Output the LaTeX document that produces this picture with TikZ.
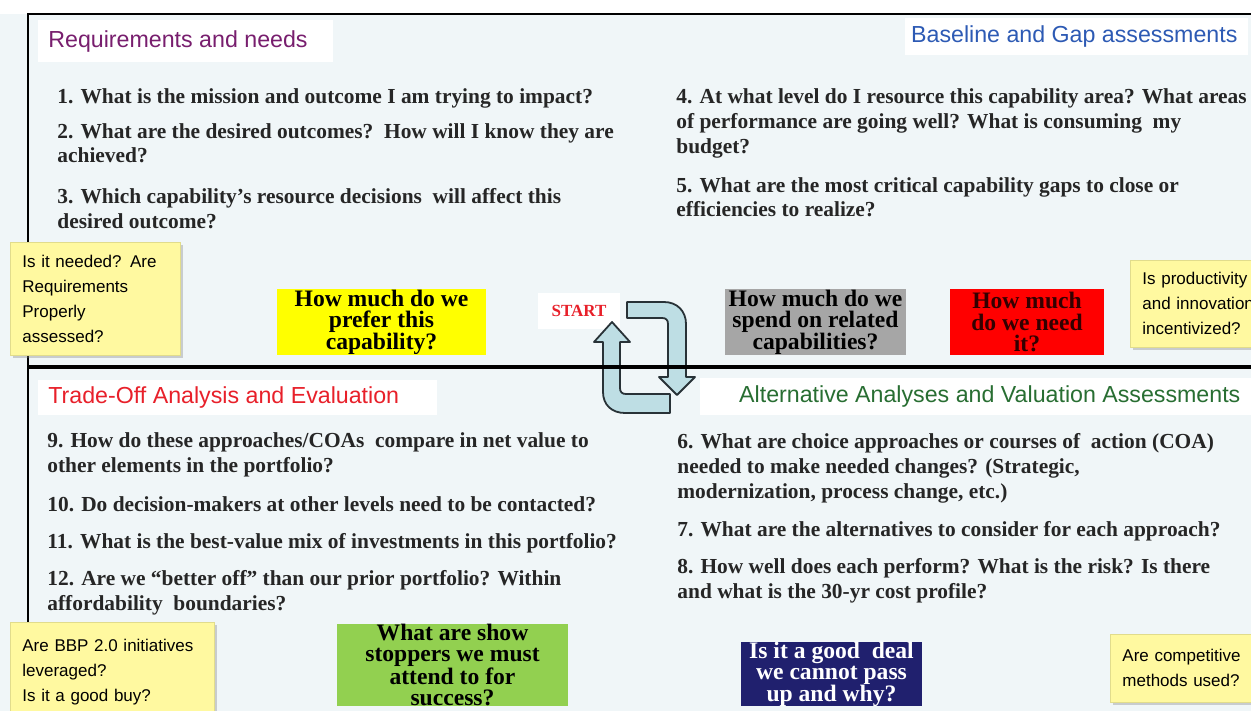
\documentclass[tikz,border=0pt]{standalone}
\usepackage{fontspec}
\setmainfont{Liberation Serif}
\setsansfont{Liberation Sans}
\usepackage{tikz}
\usetikzlibrary{positioning,shadows}
\usepackage{xcolor}
\definecolor{panelbg}{RGB}{240,246,248}
\definecolor{headpurple}{RGB}{120,30,110}
\definecolor{headblue}{RGB}{45,90,180}
\definecolor{headred}{RGB}{232,32,42}
\definecolor{headgreen}{RGB}{40,110,50}
\definecolor{notefill}{RGB}{255,249,160}
\definecolor{noteedge}{RGB}{225,220,140}
\definecolor{askyellow}{RGB}{255,255,0}
\definecolor{askgrey}{RGB}{166,166,166}
\definecolor{askred}{RGB}{255,0,0}
\definecolor{askgreen}{RGB}{146,208,80}
\definecolor{asknavy}{RGB}{32,32,110}
\definecolor{turnfill}{RGB}{190,222,228}
\definecolor{turnedge}{RGB}{40,50,55}
\newcommand{\qfont}{\fontsize{10.7}{12.5}\selectfont\bfseries}
\newcommand{\afont}{\fontsize{11.8}{10.8}\selectfont\bfseries}
\newcommand{\hfont}{\sffamily\fontsize{11.6}{13}\selectfont}
\newcommand{\nfont}{\sffamily\fontsize{8.5}{12.5}\selectfont}
\tikzset{
  quest/.style={anchor=base west,align=left,inner sep=0pt,font=\qfont,text=black!85},
  headbox/.style={fill=white,anchor=north west,inner sep=0pt},
  headtext/.style={inner sep=0pt,font=\hfont},
  askbox/.style={inner sep=0pt,align=center,font=\afont},
  note/.style={fill=notefill,draw=noteedge,line width=.4pt,anchor=north west,
               align=left,inner xsep=6pt,inner ysep=3pt,font=\nfont,
               drop shadow={shadow xshift=1.2pt,shadow yshift=-1.2pt,opacity=.35}},
  turn/.style={fill=turnfill,draw=turnedge,line width=.9pt,line join=round},
  divider/.style={draw=black,line width=2pt},
}

\begin{document}
\begin{tikzpicture}[x=0.5pt,y=-0.5pt]
  \useasboundingbox (0,0) rectangle (1251,711);
  \clip (0,0) rectangle (1251,711);
  \fill[white] (0,0) rectangle (1251,711);
  \fill[panelbg] (0,14) rectangle (1251,711);
  \draw[line width=1pt] (1251,14) -- (28,14) -- (28,711);
  % section headings
  \node[headbox,minimum width=147.5pt,minimum height=21pt] (hreqbox) at (38,20) {};
  \node[headtext,text=headpurple,right=5pt of hreqbox.west] (hreq) {Requirements and needs};
  \node[headbox,minimum width=171.5pt,minimum height=18.5pt] (hgapbox) at (905,18) {};
  \node[headtext,text=headblue,left=5.5pt of hgapbox.east] (hgap) {Baseline and Gap assessments};
  \node[headbox,minimum width=199.5pt,minimum height=17.5pt] (htradebox) at (38,380) {};
  \node[headtext,text=headred,right=5pt of htradebox.west] (htrade) {Trade-Off Analysis and Evaluation};
  \node[headbox,minimum width=275.5pt,minimum height=18.5pt] (haltbox) at (700,378) {};
  \node[headtext,text=headgreen,left=5.5pt of haltbox.east] (halt)
    {Alternative Analyses and Valuation Assessments};
  % questions (placed at the baseline of their last line)
  \node[quest] (q1) at (57,104) {1. What is the mission and outcome I am trying to impact?};
  \node[quest] (q2) at (57,163) {2. What are the desired outcomes?\ \ How will I know they are\\achieved?};
  \node[quest] (q3) at (57,228) {3. Which capability's resource decisions\ \ will affect this\\desired outcome?};
  \node[quest] (q4) at (676,154) {4. At what level do I resource this capability area? What areas\\of performance are going well? What is consuming\ \ my\\budget?};
  \node[quest] (q5) at (676,217) {5. What are the most critical capability gaps to close or\\efficiencies to realize?};
  \node[quest] (q6) at (677,498) {6. What are choice approaches or courses of\ \ action (COA)\\needed to make needed changes? (Strategic,\\modernization, process change, etc.)};
  \node[quest] (q7) at (677,536) {7. What are the alternatives to consider for each approach?};
  \node[quest] (q8) at (677,598) {8. How well does each perform? What is the risk? Is there\\and what is the 30-yr cost profile?};
  \node[quest] (q9) at (47,472) {9. How do these approaches/COAs\ \ compare in net value to\\other elements in the portfolio?};
  \node[quest] (q10) at (47,511) {10. Do decision-makers at other levels need to be contacted?};
  \node[quest] (q11) at (47,548) {11. What is the best-value mix of investments in this portfolio?};
  \node[quest] (q12) at (47,610) {12. Are we ``better off'' than our prior portfolio? Within\\affordability\ \ boundaries?};
  % prompts
  \node[askbox,fill=askyellow,minimum width=104.5pt,minimum height=33pt] (pref)
    at (381.5,322) {How much do we\\prefer this\\capability?};
  \node[askbox,fill=askgrey,minimum width=90.5pt,minimum height=33pt] (spend)
    at (815.5,322) {How much do we\\spend on related\\capabilities?};
  \node[askbox,fill=askred,text=black!80!red,minimum width=77pt,minimum height=33pt] (need)
    at (1027,322) {How much\\do we need\\it?};
  \node[askbox,fill=askgreen,minimum width=115.5pt,minimum height=40pt,
        font=\fontsize{11.8}{10.4}\selectfont\bfseries] (stopper)
    at (452.5,665) {What are show\\stoppers we must\\attend to for\\success?};
  \node[askbox,fill=asknavy,text=white,minimum width=90.5pt,minimum height=32pt] (deal)
    at (831.5,674) {Is it a good\ \ deal\\we cannot pass\\up and why?};
  \node[fill=white,inner sep=0pt,minimum width=41pt,minimum height=18pt,text=headred,
        font=\fontsize{8.5}{9}\selectfont\bfseries] (start) at (579,311) {START};
  % cycle arrows
  \draw[turn] (627,302) -- (664,302) .. controls (677,302) and (686,311) .. (686,324)
    -- (686,377) -- (695,377) -- (677,395) -- (659,377) -- (668,377) -- (668,324)
    .. controls (668,320) and (666,318) .. (662,318) -- (627,318) -- cycle;
  \draw[turn] (670,394) -- (626,394) .. controls (622,394) and (620,392) .. (620,388)
    -- (620,342) -- (630,342) -- (612,322) -- (594,342) -- (603,342) -- (603,392)
    .. controls (603,405) and (612,413) .. (625,413) -- (670,413) -- cycle;
  \draw[divider] (28,367) -- (1251,367);
  % sticky notes
  \node[note,minimum width=85pt,minimum height=56.5pt,text width=73pt] (ntl) at (10,242)
    {Is it needed? Are\\Requirements\\Properly\\assessed?};
  \node[note,minimum width=75pt,minimum height=43.5pt,text width=63pt] (ntr) at (1130,260)
    {Is productivity\\and innovation\\incentivized?};
  \node[note,minimum width=102pt,minimum height=50pt,text width=90pt] (nbl) at (10,622)
    {Are BBP 2.0 initiatives\\leveraged?\\Is it a good buy?};
  \node[note,minimum width=75pt,minimum height=34pt,text width=63pt] (nbr) at (1110,634)
    {Are competitive\\methods used?};
\end{tikzpicture}
\end{document}
